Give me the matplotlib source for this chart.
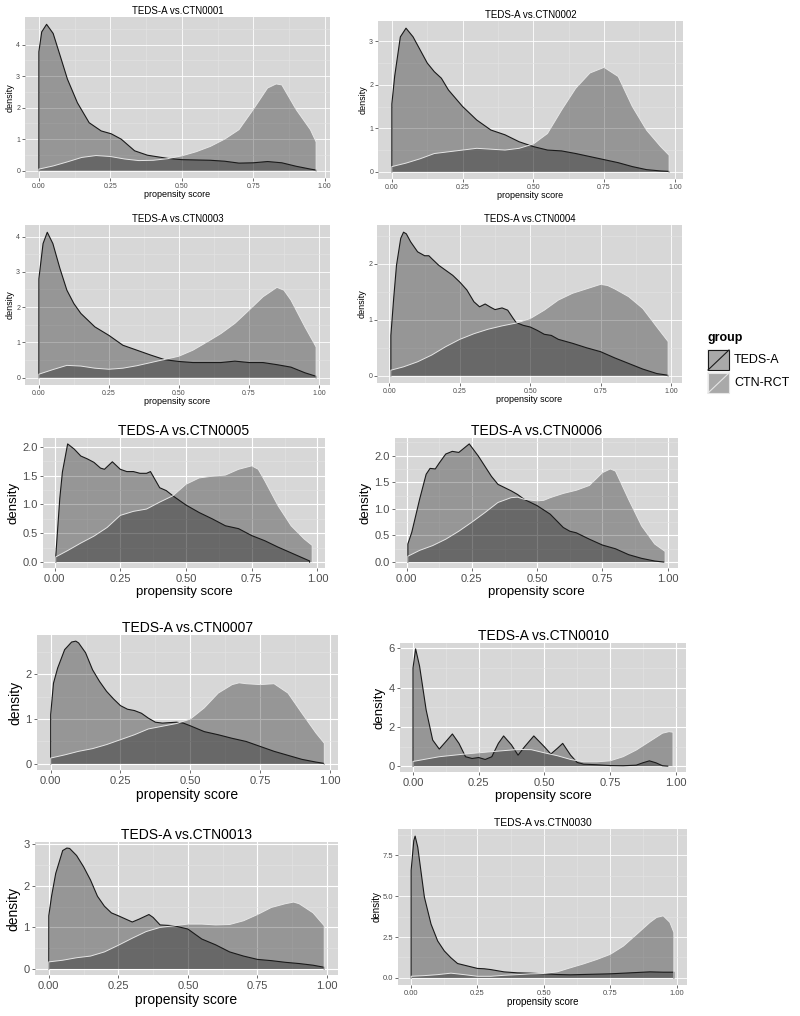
import numpy as np
import matplotlib
matplotlib.use("Agg")
import matplotlib.pyplot as plt
from matplotlib.patches import Rectangle

plt.rcParams['font.family'] = ['Liberation Sans', 'DejaVu Sans']

# ---- data (propensity score, density) ----
panels = ["CTN0001", "CTN0002", "CTN0003", "CTN0004", "CTN0005",
          "CTN0006", "CTN0007", "CTN0010", "CTN0013", "CTN0030"]

teds_x_0001 = [0, 0.01, 0.027, 0.05, 0.076, 0.1, 0.135, 0.176, 0.218, 0.253, 0.288, 0.335, 0.38, 0.45, 0.5, 0.6, 0.65, 0.7, 0.75, 0.8, 0.85, 0.9, 0.95, 0.97]
teds_y_0001 = [3.77, 4.4, 4.64, 4.35, 3.6, 2.9, 2.15, 1.52, 1.26, 1.17, 1.0, 0.63, 0.49, 0.39, 0.35, 0.33, 0.3, 0.24, 0.25, 0.29, 0.25, 0.14, 0.05, 0.02]
ctn_x_0001 = [0, 0.05, 0.1, 0.15, 0.2, 0.25, 0.3, 0.35, 0.4, 0.45, 0.5, 0.55, 0.6, 0.65, 0.7, 0.75, 0.8, 0.83, 0.85, 0.9, 0.95, 0.97]
ctn_y_0001 = [0.05, 0.15, 0.28, 0.42, 0.48, 0.45, 0.37, 0.32, 0.33, 0.38, 0.47, 0.6, 0.77, 1.0, 1.3, 1.94, 2.62, 2.75, 2.72, 1.94, 1.3, 0.91]

teds_x_0002 = [0, 0.01, 0.03, 0.05, 0.075, 0.1, 0.125, 0.15, 0.175, 0.2, 0.25, 0.3, 0.35, 0.4, 0.45, 0.5, 0.55, 0.6, 0.65, 0.7, 0.75, 0.8, 0.85, 0.9, 0.95, 0.98]
teds_y_0002 = [1.56, 2.2, 3.1, 3.3, 3.1, 2.8, 2.5, 2.3, 2.15, 1.88, 1.5, 1.19, 0.96, 0.85, 0.69, 0.58, 0.5, 0.48, 0.42, 0.35, 0.28, 0.21, 0.12, 0.05, 0.02, 0.01]
ctn_x_0002 = [0, 0.05, 0.1, 0.15, 0.2, 0.3, 0.4, 0.45, 0.5, 0.55, 0.6, 0.65, 0.7, 0.75, 0.8, 0.85, 0.9, 0.95, 0.98]
ctn_y_0002 = [0.12, 0.2, 0.3, 0.42, 0.46, 0.54, 0.5, 0.54, 0.64, 0.88, 1.42, 1.92, 2.27, 2.4, 2.19, 1.5, 0.96, 0.58, 0.38]

teds_x_0003 = [0, 0.015, 0.03, 0.05, 0.075, 0.1, 0.125, 0.15, 0.2, 0.25, 0.3, 0.35, 0.4, 0.45, 0.5, 0.55, 0.6, 0.65, 0.7, 0.75, 0.8, 0.85, 0.9, 0.95, 0.99]
teds_y_0003 = [2.8, 3.8, 4.12, 3.8, 3.1, 2.48, 2.1, 1.82, 1.44, 1.2, 0.92, 0.78, 0.64, 0.51, 0.46, 0.43, 0.43, 0.43, 0.47, 0.43, 0.43, 0.37, 0.3, 0.14, 0.04]
ctn_x_0003 = [0, 0.05, 0.1, 0.15, 0.2, 0.25, 0.3, 0.35, 0.4, 0.45, 0.5, 0.55, 0.6, 0.65, 0.7, 0.75, 0.8, 0.85, 0.875, 0.9, 0.95, 0.99]
ctn_y_0003 = [0.1, 0.23, 0.35, 0.33, 0.27, 0.24, 0.27, 0.34, 0.43, 0.52, 0.61, 0.78, 1.01, 1.25, 1.54, 1.91, 2.29, 2.56, 2.48, 2.2, 1.44, 0.87]

teds_x_0004 = [0.005, 0.015, 0.025, 0.04, 0.05, 0.06, 0.075, 0.1, 0.125, 0.14, 0.15, 0.175, 0.2, 0.225, 0.25, 0.275, 0.3, 0.32, 0.34, 0.36, 0.375, 0.4, 0.42, 0.44, 0.45, 0.475, 0.5, 0.525, 0.55, 0.575, 0.6, 0.65, 0.7, 0.75, 0.8, 0.85, 0.9, 0.95, 0.99]
teds_y_0004 = [0.72, 1.38, 1.97, 2.45, 2.56, 2.53, 2.39, 2.21, 2.14, 2.14, 2.09, 1.97, 1.88, 1.79, 1.67, 1.53, 1.32, 1.23, 1.28, 1.22, 1.18, 1.21, 1.17, 1.02, 0.95, 0.9, 0.87, 0.81, 0.74, 0.72, 0.65, 0.58, 0.5, 0.43, 0.32, 0.22, 0.12, 0.04, 0.01]
ctn_x_0004 = [0.005, 0.05, 0.1, 0.15, 0.2, 0.25, 0.3, 0.35, 0.4, 0.45, 0.5, 0.55, 0.6, 0.65, 0.7, 0.75, 0.775, 0.8, 0.85, 0.9, 0.95, 0.99]
ctn_y_0004 = [0.1, 0.16, 0.25, 0.37, 0.52, 0.65, 0.75, 0.83, 0.89, 0.94, 1.02, 1.17, 1.35, 1.47, 1.55, 1.63, 1.61, 1.55, 1.41, 1.2, 0.87, 0.61]

teds_x_0005 = [0.005, 0.02, 0.03, 0.05, 0.075, 0.1, 0.125, 0.15, 0.175, 0.19, 0.22, 0.25, 0.275, 0.3, 0.325, 0.35, 0.365, 0.4, 0.425, 0.45, 0.5, 0.55, 0.6, 0.65, 0.7, 0.75, 0.8, 0.85, 0.9, 0.95, 0.97]
teds_y_0005 = [0.12, 1.1, 1.56, 2.05, 1.96, 1.84, 1.79, 1.73, 1.63, 1.61, 1.74, 1.61, 1.57, 1.57, 1.54, 1.54, 1.57, 1.29, 1.24, 1.15, 0.99, 0.86, 0.75, 0.63, 0.58, 0.46, 0.37, 0.26, 0.16, 0.06, 0.02]
ctn_x_0005 = [0.005, 0.05, 0.1, 0.15, 0.2, 0.25, 0.3, 0.35, 0.4, 0.45, 0.5, 0.55, 0.6, 0.65, 0.7, 0.75, 0.775, 0.8, 0.85, 0.9, 0.95, 0.98]
ctn_y_0005 = [0.09, 0.2, 0.33, 0.45, 0.6, 0.81, 0.88, 0.92, 1.04, 1.15, 1.35, 1.46, 1.49, 1.51, 1.61, 1.67, 1.61, 1.41, 0.98, 0.63, 0.4, 0.29]

teds_x_0006 = [0.005, 0.02, 0.05, 0.075, 0.09, 0.11, 0.125, 0.15, 0.175, 0.2, 0.225, 0.24, 0.275, 0.3, 0.325, 0.35, 0.375, 0.4, 0.425, 0.45, 0.5, 0.55, 0.6, 0.625, 0.65, 0.7, 0.75, 0.8, 0.85, 0.9, 0.95, 0.985]
teds_y_0006 = [0.34, 0.56, 1.18, 1.65, 1.76, 1.75, 1.86, 2.03, 2.08, 2.06, 2.16, 2.22, 1.99, 1.8, 1.61, 1.46, 1.4, 1.34, 1.27, 1.18, 1.06, 0.9, 0.65, 0.58, 0.55, 0.43, 0.32, 0.25, 0.14, 0.07, 0.02, 0.0]
ctn_x_0006 = [0.005, 0.05, 0.1, 0.15, 0.2, 0.25, 0.3, 0.35, 0.4, 0.425, 0.45, 0.5, 0.525, 0.55, 0.6, 0.65, 0.7, 0.75, 0.78, 0.8, 0.85, 0.9, 0.95, 0.99]
ctn_y_0006 = [0.11, 0.22, 0.31, 0.43, 0.58, 0.75, 0.93, 1.12, 1.21, 1.22, 1.18, 1.15, 1.16, 1.21, 1.29, 1.35, 1.44, 1.68, 1.75, 1.71, 1.18, 0.68, 0.34, 0.2]

teds_x_0007 = [0, 0.01, 0.025, 0.05, 0.075, 0.09, 0.1, 0.125, 0.15, 0.175, 0.2, 0.225, 0.25, 0.275, 0.3, 0.325, 0.35, 0.375, 0.4, 0.45, 0.475, 0.5, 0.55, 0.6, 0.65, 0.7, 0.75, 0.8, 0.85, 0.9, 0.95, 0.98]
teds_y_0007 = [1.1, 1.8, 2.14, 2.55, 2.72, 2.74, 2.7, 2.48, 2.1, 1.84, 1.62, 1.45, 1.3, 1.22, 1.19, 1.13, 1.02, 0.93, 0.91, 0.93, 0.91, 0.85, 0.72, 0.65, 0.57, 0.5, 0.39, 0.28, 0.19, 0.1, 0.04, 0.01]
ctn_x_0007 = [0, 0.05, 0.1, 0.15, 0.2, 0.25, 0.3, 0.35, 0.4, 0.45, 0.5, 0.55, 0.6, 0.65, 0.675, 0.7, 0.75, 0.8, 0.85, 0.9, 0.95, 0.98]
ctn_y_0007 = [0.13, 0.2, 0.28, 0.34, 0.43, 0.54, 0.65, 0.78, 0.84, 0.9, 1.0, 1.25, 1.58, 1.77, 1.81, 1.79, 1.77, 1.79, 1.58, 1.13, 0.69, 0.46]

teds_x_0010 = [0, 0.01, 0.025, 0.05, 0.075, 0.1, 0.125, 0.15, 0.175, 0.2, 0.225, 0.25, 0.275, 0.3, 0.325, 0.345, 0.375, 0.4, 0.425, 0.46, 0.5, 0.525, 0.55, 0.57, 0.6, 0.625, 0.65, 0.7, 0.75, 0.8, 0.85, 0.875, 0.9, 0.925, 0.95, 0.97]
teds_y_0010 = [5.0, 5.98, 5.1, 2.87, 1.33, 0.87, 1.25, 1.64, 1.16, 0.48, 0.39, 0.44, 0.34, 0.48, 1.16, 1.54, 1.08, 0.56, 0.99, 1.54, 0.99, 0.62, 0.91, 1.16, 0.56, 0.19, 0.1, 0.07, 0.03, 0.02, 0.05, 0.17, 0.27, 0.17, 0.02, 0.0]
ctn_x_0010 = [0, 0.1, 0.2, 0.3, 0.4, 0.45, 0.5, 0.55, 0.6, 0.65, 0.7, 0.75, 0.8, 0.85, 0.9, 0.95, 0.975, 0.99]
ctn_y_0010 = [0.24, 0.48, 0.62, 0.74, 0.85, 0.84, 0.68, 0.53, 0.34, 0.22, 0.22, 0.27, 0.48, 0.82, 1.25, 1.68, 1.76, 1.73]

teds_x_0013 = [0, 0.01, 0.025, 0.05, 0.065, 0.075, 0.1, 0.125, 0.15, 0.175, 0.2, 0.225, 0.25, 0.3, 0.325, 0.36, 0.375, 0.4, 0.45, 0.5, 0.55, 0.6, 0.65, 0.7, 0.75, 0.8, 0.85, 0.9, 0.95, 0.99]
teds_y_0013 = [1.28, 1.75, 2.3, 2.85, 2.91, 2.9, 2.73, 2.46, 2.14, 1.75, 1.51, 1.35, 1.28, 1.13, 1.2, 1.31, 1.24, 1.06, 1.04, 0.96, 0.72, 0.58, 0.41, 0.31, 0.23, 0.2, 0.16, 0.13, 0.09, 0.04]
ctn_x_0013 = [0, 0.05, 0.1, 0.15, 0.2, 0.25, 0.3, 0.35, 0.4, 0.45, 0.5, 0.55, 0.6, 0.65, 0.7, 0.75, 0.8, 0.85, 0.88, 0.9, 0.95, 0.99]
ctn_y_0013 = [0.17, 0.21, 0.27, 0.31, 0.41, 0.57, 0.74, 0.9, 1.0, 1.04, 1.08, 1.08, 1.06, 1.07, 1.16, 1.31, 1.48, 1.57, 1.61, 1.57, 1.35, 1.04]

teds_x_0030 = [0, 0.01, 0.015, 0.025, 0.05, 0.075, 0.1, 0.125, 0.15, 0.175, 0.2, 0.25, 0.275, 0.3, 0.35, 0.4, 0.45, 0.5, 0.55, 0.6, 0.65, 0.7, 0.75, 0.8, 0.85, 0.9, 0.95, 0.99]
teds_y_0030 = [6.58, 8.4, 8.68, 8.0, 4.94, 3.29, 2.26, 1.65, 1.23, 0.88, 0.78, 0.58, 0.56, 0.51, 0.37, 0.31, 0.29, 0.25, 0.21, 0.19, 0.21, 0.23, 0.25, 0.29, 0.33, 0.37, 0.35, 0.35]
ctn_x_0030 = [0, 0.05, 0.1, 0.15, 0.2, 0.25, 0.3, 0.35, 0.4, 0.45, 0.5, 0.55, 0.6, 0.65, 0.7, 0.75, 0.8, 0.85, 0.9, 0.925, 0.95, 0.975, 0.99]
ctn_y_0030 = [0.1, 0.14, 0.2, 0.29, 0.2, 0.1, 0.1, 0.16, 0.2, 0.25, 0.27, 0.37, 0.62, 0.86, 1.13, 1.44, 1.95, 2.67, 3.4, 3.7, 3.8, 3.4, 2.78]

x_ticks = [0, 0.25, 0.5, 0.75, 1.0]
x_tick_labels = ["0.00", "0.25", "0.50", "0.75", "1.00"]
y_ticks = {
    "CTN0001": ([0, 1, 2, 3, 4], ["0", "1", "2", "3", "4"]),
    "CTN0002": ([0, 1, 2, 3], ["0", "1", "2", "3"]),
    "CTN0003": ([0, 1, 2, 3, 4], ["0", "1", "2", "3", "4"]),
    "CTN0004": ([0, 1, 2], ["0", "1", "2"]),
    "CTN0005": ([0, 0.5, 1.0, 1.5, 2.0], ["0.0", "0.5", "1.0", "1.5", "2.0"]),
    "CTN0006": ([0, 0.5, 1.0, 1.5, 2.0], ["0.0", "0.5", "1.0", "1.5", "2.0"]),
    "CTN0007": ([0, 1, 2], ["0", "1", "2"]),
    "CTN0010": ([0, 2, 4, 6], ["0", "2", "4", "6"]),
    "CTN0013": ([0, 1, 2, 3], ["0", "1", "2", "3"]),
    "CTN0030": ([0, 2.5, 5.0, 7.5], ["0.0", "2.5", "5.0", "7.5"]),
}

series = {
    "CTN0001": (teds_x_0001, teds_y_0001, ctn_x_0001, ctn_y_0001),
    "CTN0002": (teds_x_0002, teds_y_0002, ctn_x_0002, ctn_y_0002),
    "CTN0003": (teds_x_0003, teds_y_0003, ctn_x_0003, ctn_y_0003),
    "CTN0004": (teds_x_0004, teds_y_0004, ctn_x_0004, ctn_y_0004),
    "CTN0005": (teds_x_0005, teds_y_0005, ctn_x_0005, ctn_y_0005),
    "CTN0006": (teds_x_0006, teds_y_0006, ctn_x_0006, ctn_y_0006),
    "CTN0007": (teds_x_0007, teds_y_0007, ctn_x_0007, ctn_y_0007),
    "CTN0010": (teds_x_0010, teds_y_0010, ctn_x_0010, ctn_y_0010),
    "CTN0013": (teds_x_0013, teds_y_0013, ctn_x_0013, ctn_y_0013),
    "CTN0030": (teds_x_0030, teds_y_0030, ctn_x_0030, ctn_y_0030),
}

# panel rectangles in pixels (left, top, right, bottom) and font sizes (title, tick, label)
W, H = 800, 1016
layout = {
    "CTN0001": ((25, 17, 330, 178), (7, 5, 6.5)),
    "CTN0002": ((378, 21, 683, 179), (7, 5, 6.5)),
    "CTN0003": ((25, 225, 330, 385), (7, 5, 6.5)),
    "CTN0004": ((377, 225, 682, 383), (7, 5, 6.5)),
    "CTN0005": ((43, 438, 325, 568), (10, 8, 9.5)),
    "CTN0006": ((395, 438, 678, 568), (10, 8, 9.5)),
    "CTN0007": ((37, 635, 338, 770), (10, 8, 10)),
    "CTN0010": ((400, 643, 686, 772), (10, 8, 9.5)),
    "CTN0013": ((35, 842, 338, 975), (10, 8, 10)),
    "CTN0030": ((398, 829, 687, 985), (7.5, 5.5, 7)),
}

bg = "#d7d7d7"

fig = plt.figure(figsize=(W / 100, H / 100), dpi=100)

for name in panels:
    (L, T, R, B), (fs_title, fs_tick, fs_lab) = layout[name]
    ax = fig.add_axes([L / W, 1 - B / H, (R - L) / W, (B - T) / H])
    tx, ty, cx, cy = series[name]
    big = fs_tick > 6

    # ggplot-like expansion of the data range
    xmin = min(tx[0], cx[0])
    xmax = max(tx[-1], cx[-1])
    ymax = max(max(ty), max(cy))
    ax.set_xlim(xmin - 0.05 * (xmax - xmin), xmax + 0.05 * (xmax - xmin))
    ax.set_ylim(-0.05 * ymax, 1.05 * ymax)

    ax.set_facecolor(bg)
    for s in ax.spines.values():
        s.set_visible(False)

    yt, ytl = y_ticks[name]
    ax.set_xticks(x_ticks)
    ax.set_xticklabels(x_tick_labels)
    ax.set_yticks(yt)
    ax.set_yticklabels(ytl)
    ax.set_xticks([0.125, 0.375, 0.625, 0.875], minor=True)
    ystep = yt[1] - yt[0]
    ax.set_yticks([v + ystep / 2 for v in yt if v + ystep / 2 < 1.05 * ymax], minor=True)
    ax.grid(which="major", color="white", lw=0.8 if big else 0.6)
    ax.grid(which="minor", color="#e4e4e4", lw=0.4)
    ax.set_axisbelow(True)
    ax.tick_params(which="major", length=2, width=0.5, color="#333333",
                   labelsize=fs_tick, labelcolor="#4d4d4d", pad=2 if big else 1.5)
    ax.tick_params(which="minor", length=0)

    # TEDS-A first, then CTN-RCT on top, closed polygons like geom_density
    px = [tx[0]] + list(tx) + [tx[-1]]
    py = [0] + list(ty) + [0]
    ax.fill(px, py, facecolor="black", alpha=0.3, edgecolor="none")
    ax.plot(px, py, color="#1a1a1a", lw=0.8, solid_joinstyle="round")
    px = [cx[0]] + list(cx) + [cx[-1]]
    py = [0] + list(cy) + [0]
    ax.fill(px, py, facecolor="black", alpha=0.3, edgecolor="none")
    ax.plot(px, py, color="#e6e6e6", lw=0.7, solid_joinstyle="round")

    ax.set_title("TEDS-A vs." + name, fontsize=fs_title, pad=2)
    ax.set_xlabel("propensity score", fontsize=fs_lab, labelpad=2 if big else 0)
    ax.set_ylabel("density", fontsize=fs_lab, labelpad=2 if big else 1)

# legend
lg = fig.add_axes([700 / W, 1 - 400 / H, 100 / W, 75 / H])
lg.set_xlim(700, 800)
lg.set_ylim(400, 325)
lg.axis("off")
lg.text(707, 338, "group", fontsize=9, fontweight="bold", va="center", ha="left")
keys = [("TEDS-A", 349, "#1a1a1a"), ("CTN-RCT", 372, "#e6e6e6")]
for label, top, lc in keys:
    lg.add_patch(Rectangle((707, top), 23, 22, facecolor="#f2f2f2", edgecolor="none"))
    lg.add_patch(Rectangle((708, top + 1), 21, 20, facecolor="black", alpha=0.3, edgecolor="none"))
    lg.add_patch(Rectangle((708, top + 1), 21, 20, facecolor="none", edgecolor=lc, lw=0.8))
    lg.plot([708, 729], [top + 21, top + 1], color=lc, lw=0.8)
    lg.text(734, top + 11, label, fontsize=9, va="center", ha="left")

fig.savefig("out.png", dpi=100)
